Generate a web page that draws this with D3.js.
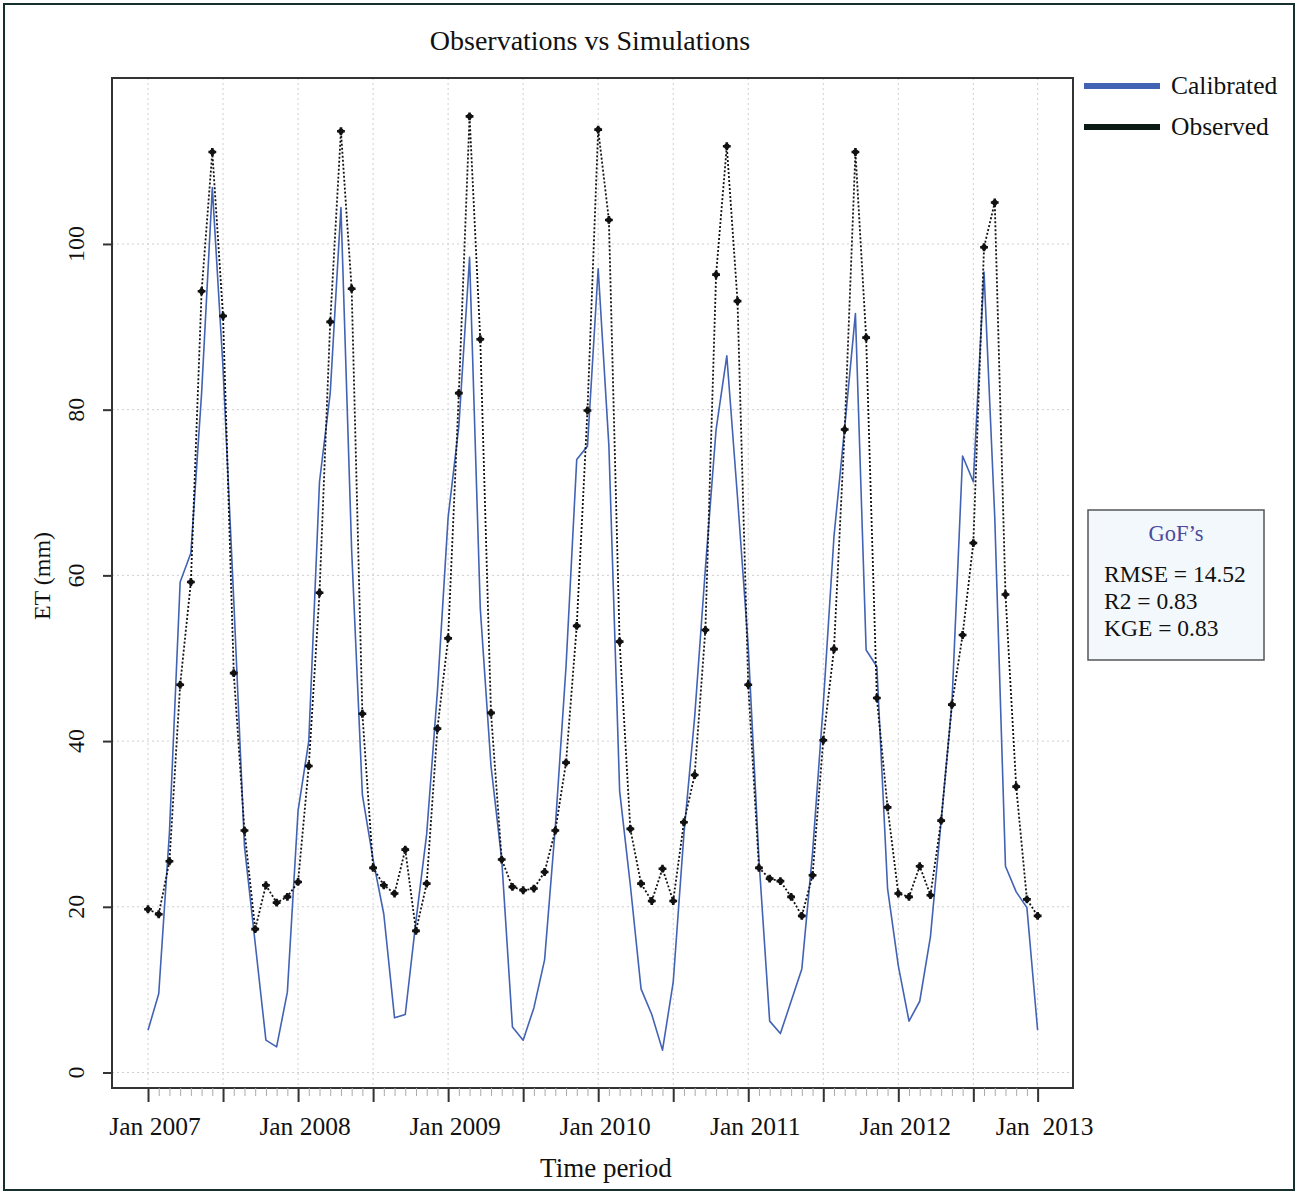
<!DOCTYPE html>
<html>
<head>
<meta charset="utf-8">
<script src="https://cdn.jsdelivr.net/npm/d3@7"></script>
<style>
  body { margin: 0; background: #fff; }
  svg { display: block; }
  text { font-family: "Liberation Serif", "Times New Roman", serif; fill: #111; }
</style>
</head>
<body>
<svg id="chart" width="1300" height="1194"></svg>
<script>
// Monthly evapotranspiration (mm), one value per month
const observed = [
  19.7, 19.1, 25.5, 46.8, 59.2, 94.3, 111.1, 91.3, 48.2, 29.2, 17.3, 22.6,
  20.5, 21.2, 23.0, 37.0, 57.9, 90.6, 113.6, 94.6, 43.3, 24.7, 22.6, 21.6,
  26.9, 17.1, 22.8, 41.5, 52.4, 82.0, 115.4, 88.5, 43.4, 25.7, 22.4, 22.0,
  22.2, 24.2, 29.2, 37.4, 53.9, 79.9, 113.8, 102.9, 52.0, 29.4, 22.8, 20.7,
  24.6, 20.7, 30.2, 35.9, 53.4, 96.3, 111.8, 93.1, 46.8, 24.7, 23.4, 23.1,
  21.2, 18.9, 23.8, 40.1, 51.1, 77.6, 111.1, 88.7, 45.2, 32.0, 21.6, 21.2,
  24.9, 21.4, 30.4, 44.4, 52.8, 63.9, 99.6, 105.0, 57.7, 34.5, 20.9, 18.9
];
const calibrated = [
  5.1, 9.5, 29.0, 59.2, 62.7, 82.0, 106.8, 85.0, 57.0, 27.3, 15.6, 3.9,
  3.1, 9.7, 31.6, 40.0, 71.3, 82.0, 104.4, 63.0, 33.5, 25.7, 19.1, 6.6,
  7.0, 18.3, 28.8, 46.0, 67.0, 78.0, 98.4, 56.0, 37.0, 25.7, 5.5, 3.9,
  7.8, 13.6, 29.6, 49.0, 74.0, 75.6, 97.0, 75.6, 34.0, 22.6, 10.1, 7.0,
  2.7, 10.9, 28.8, 42.9, 60.8, 77.6, 86.5, 69.4, 51.4, 25.7, 6.2, 4.7,
  8.6, 12.5, 26.5, 44.4, 64.7, 77.9, 91.6, 51.0, 49.0, 22.2, 12.9, 6.2,
  8.6, 16.4, 30.4, 44.4, 74.4, 71.3, 96.6, 67.0, 24.9, 21.8, 19.9, 5.1
];
const yTicks = [0, 20, 40, 60, 80, 100];
const xMajorIndex = [0, 7, 14, 21, 28, 35, 42, 49, 56, 63, 70, 77, 83];
const xLabelIndex = [0, 14, 28, 42, 56, 70, 83];
const xLabelText = ["Jan 2007", "Jan 2008", "Jan 2009", "Jan 2010", "Jan 2011", "Jan 2012", "Jan  2013"];
const seriesNames = ["Calibrated", "Observed"];
const gofLines = ["RMSE = 14.52", "R2 = 0.83", "KGE = 0.83"];

const BLUE = "#4262b4";
const svg = d3.select("#chart");

// outer frame
svg.append("rect").attr("x", 4).attr("y", 4).attr("width", 1290).attr("height", 1186)
  .attr("fill", "none").attr("stroke", "#163030").attr("stroke-width", 2);

const plot = { left: 112, right: 1073, top: 78, bottom: 1088 };
const x = d3.scaleLinear().domain([-3.36, 86.3]).range([plot.left, plot.right]);
const y = d3.scaleLinear().domain([-1.87, 120.03]).range([plot.bottom, plot.top]);

// grid
const grid = svg.append("g").attr("stroke", "#cfcfcf").attr("stroke-width", 1)
  .attr("stroke-dasharray", "2,3");
grid.selectAll("line.v").data(xMajorIndex).join("line")
  .attr("x1", d => x(d)).attr("x2", d => x(d))
  .attr("y1", plot.top).attr("y2", plot.bottom);
grid.selectAll("line.h").data(yTicks).join("line")
  .attr("x1", plot.left).attr("x2", plot.right)
  .attr("y1", d => y(d)).attr("y2", d => y(d));

// series
const idx = d3.range(observed.length);
const lineObs = d3.line().x(i => x(i)).y(i => y(observed[i]));
const lineSim = d3.line().x(i => x(i)).y(i => y(calibrated[i]));

svg.append("path").attr("d", lineSim(idx)).attr("fill", "none")
  .attr("stroke", BLUE).attr("stroke-width", 1.6).attr("stroke-linejoin", "round");
svg.append("path").attr("d", lineObs(idx)).attr("fill", "none")
  .attr("stroke", "#111").attr("stroke-width", 1.8).attr("stroke-dasharray", "2,2");

const marks = svg.append("g");
marks.selectAll("circle").data(idx).join("circle")
  .attr("cx", i => x(i)).attr("cy", i => y(observed[i])).attr("r", 2.8).attr("fill", "#111");
marks.selectAll("path").data(idx).join("path")
  .attr("transform", i => `translate(${x(i)},${y(observed[i])})`)
  .attr("d", d3.symbol(d3.symbolCross, 34)).attr("fill", "#111");

// plot box
svg.append("rect").attr("x", plot.left).attr("y", plot.top)
  .attr("width", plot.right - plot.left).attr("height", plot.bottom - plot.top)
  .attr("fill", "none").attr("stroke", "#333").attr("stroke-width", 2);

// x axis: monthly minor ticks, labelled major ticks
const xa = svg.append("g").attr("transform", `translate(0,${plot.bottom})`)
  .call(d3.axisBottom(x).tickValues(idx).tickSize(8).tickFormat(""));
xa.select(".domain").remove();
xa.selectAll(".tick line").attr("stroke", "#aaa").attr("stroke-width", 1);
const xb = svg.append("g").attr("transform", `translate(0,${plot.bottom})`)
  .call(d3.axisBottom(x).tickValues(xMajorIndex).tickSize(14).tickFormat(""));
xb.select(".domain").remove();
xb.selectAll(".tick line").attr("stroke", "#333").attr("stroke-width", 2);

svg.append("g").selectAll("text").data(xLabelIndex).join("text")
  .attr("x", (d) => x(d) + 7).attr("y", 1135)
  .attr("text-anchor", "middle").attr("font-size", 25.5).style("white-space", "pre")
  .text((d, k) => xLabelText[k]);

// y axis
const ya = svg.append("g").attr("transform", `translate(${plot.left},0)`)
  .call(d3.axisLeft(y).tickValues(yTicks).tickSize(9).tickFormat(""));
ya.select(".domain").remove();
ya.selectAll(".tick line").attr("stroke", "#333").attr("stroke-width", 2);
svg.append("g").selectAll("text").data(yTicks).join("text")
  .attr("transform", d => `translate(84,${y(d)}) rotate(-90)`)
  .attr("text-anchor", "middle").attr("font-size", 24).text(d => d);

// titles
svg.append("text").attr("x", 590).attr("y", 50).attr("text-anchor", "middle")
  .attr("font-size", 28).text("Observations vs Simulations");
svg.append("text").attr("x", 606).attr("y", 1177).attr("text-anchor", "middle")
  .attr("font-size", 27).text("Time period");
svg.append("text").attr("transform", "translate(50,576) rotate(-90)")
  .attr("text-anchor", "middle").attr("font-size", 24).text("ET (mm)");

// legend
const legColors = [BLUE, "#0b1a14"];
const leg = svg.append("g");
leg.selectAll("line").data(seriesNames).join("line")
  .attr("x1", 1084).attr("x2", 1160)
  .attr("y1", (d, k) => 86 + k * 41).attr("y2", (d, k) => 86 + k * 41)
  .attr("stroke", (d, k) => legColors[k]).attr("stroke-width", 6);
leg.selectAll("text").data(seriesNames).join("text")
  .attr("x", 1171).attr("y", (d, k) => 94 + k * 41).attr("font-size", 25.5).text(d => d);

// goodness-of-fit box
svg.append("rect").attr("x", 1088).attr("y", 510).attr("width", 176).attr("height", 150)
  .attr("fill", "#f3f8fc").attr("stroke", "#555").attr("stroke-width", 1.5);
svg.append("text").attr("x", 1176).attr("y", 541).attr("text-anchor", "middle")
  .attr("font-size", 22.5).style("fill", "#4a4a9e").text("GoF’s");
svg.append("g").selectAll("text").data(gofLines).join("text")
  .attr("x", 1104).attr("y", (d, k) => 582 + k * 27).attr("font-size", 23.5).text(d => d);
</script>
</body>
</html>
